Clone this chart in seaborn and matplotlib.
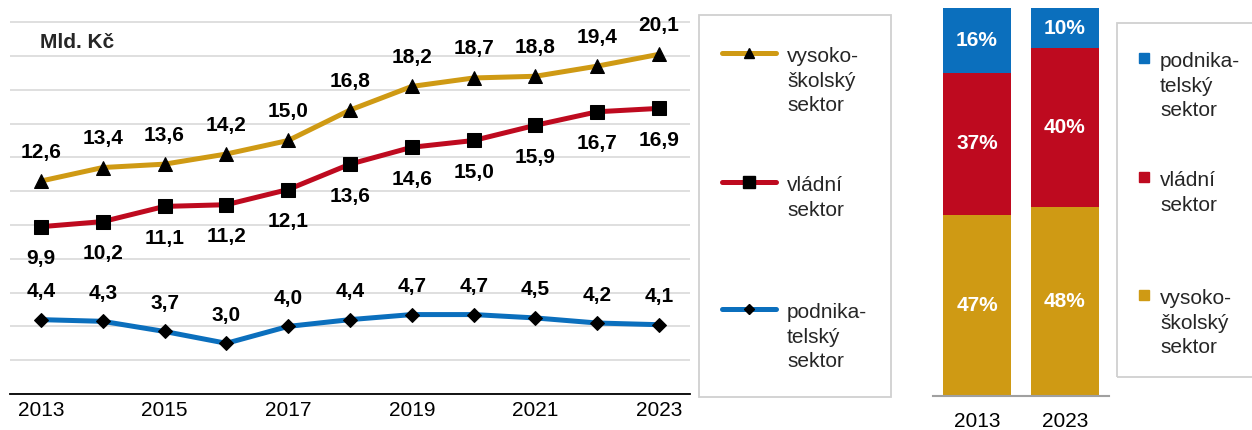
import numpy as np
import pandas as pd
import seaborn as sns
import matplotlib.pyplot as plt
from matplotlib.lines import Line2D
from matplotlib.patches import Rectangle

# data - vydaje na VaV podle sektoru (mld. Kc)
years = [2013, 2014, 2015, 2016, 2017, 2018, 2019, 2020, 2021, 2022, 2023]
vs = [12.6, 13.4, 13.6, 14.2, 15.0, 16.8, 18.2, 18.7, 18.8, 19.4, 20.1]
vlad = [9.9, 10.2, 11.1, 11.2, 12.1, 13.6, 14.6, 15.0, 15.9, 16.7, 16.9]
podn = [4.4, 4.3, 3.7, 3.0, 4.0, 4.4, 4.7, 4.7, 4.5, 4.2, 4.1]

# struktura v %
share_years = ['2013', '2023']
share_vs = [46.7, 48.8]
share_vlad = [36.7, 41.0]
share_podn = [16.6, 10.2]
lab_vs = ['47%', '48%']
lab_vlad = ['37%', '40%']
lab_podn = ['16%', '10%']

YELLOW = '#CF9A14'
RED = '#BE0A1F'
BLUE = '#0B6FBD'

sns.set_theme(style='white')
plt.rcParams['font.family'] = ['Liberation Sans', 'DejaVu Sans']

W, H = 1252, 430
fig = plt.figure(figsize=(W / 100, H / 100), dpi=100)

def fx(px):
    return px / W

def fy(py):
    return 1 - py / H

# ---- line chart
ax = fig.add_axes([fx(10), fy(394), 680 / W, 373.5 / H])
series = [(vs, YELLOW, '^', 10, 29), (vlad, RED, 's', 10.5, -32), (podn, BLUE, 'D', 7, 28)]
for vals, col, mk, ms, off in series:
    sns.lineplot(x=years, y=vals, color=col, lw=3.6, marker=mk, markersize=ms,
                 markerfacecolor='black', markeredgecolor='black', ax=ax)
    for x, v in zip(years, vals):
        ax.annotate(f'{v:.1f}'.replace('.', ','), (x, v), xytext=(0, off),
                    textcoords='offset pixels', ha='center', va='center',
                    fontsize=15, fontweight='bold', color='black')

ax.set_xlim(2012.5, 2023.5)
ax.set_ylim(0, 22.1)
ax.set_yticks(np.arange(0, 23, 2))
ax.set_yticklabels([])
ax.yaxis.grid(True, color='#D9D9D9', lw=1.2)
ax.set_axisbelow(True)
ax.set_xticks(np.arange(2012.5, 2024, 1))
ax.set_xticklabels([])
ax.set_xticks(years[::2], minor=True)
ax.set_xticklabels([str(y) for y in years[::2]], minor=True)
ax.tick_params(axis='x', which='major', length=6, width=1.3, color='black', direction='out')
ax.tick_params(axis='x', which='minor', length=0, labelsize=15, pad=5, labelcolor='black')
ax.tick_params(axis='y', length=0)
for s in ['left', 'right', 'top']:
    ax.spines[s].set_visible(False)
ax.spines['bottom'].set_color('black')
ax.spines['bottom'].set_linewidth(1.3)
ax.set_xlabel('')
ax.set_ylabel('')
fig.text(fx(40), fy(43), 'Mld. Kč', fontsize=15, fontweight='bold', va='center', ha='left')

# legend of the line chart
fig.add_artist(Rectangle((fx(699), fy(397)), 192 / W, 382 / H, transform=fig.transFigure,
                         fill=False, ec='#D0D0D0', lw=1.3))
leg1 = [('vysoko-\nškolský\nsektor', YELLOW, '^', 7, 53),
        ('vládní\nsektor', RED, 's', 9, 182),
        ('podnika-\ntelský\nsektor', BLUE, 'D', 5.5, 309)]
for txt, col, mk, ms, yy in leg1:
    fig.add_artist(Line2D([fx(722), fx(776)], [fy(yy), fy(yy)], color=col, lw=3.6,
                          solid_capstyle='round', transform=fig.transFigure))
    fig.add_artist(Line2D([fx(749)], [fy(yy)], marker=mk, markersize=ms, color='black',
                          transform=fig.transFigure))
    fig.text(fx(787), fy(yy - 6), txt, fontsize=15, va='top', ha='left', linespacing=1.38)

# ---- stacked bars
bax = fig.add_axes([fx(933), fy(396), 176 / W, 387.7 / H])
df = pd.DataFrame({'rok': share_years, 'vs': share_vs, 'vlad': share_vlad, 'podn': share_podn})
df['c_vs'] = df['vs']
df['c_vlad'] = df['vs'] + df['vlad']
df['c_podn'] = df['c_vlad'] + df['podn']
for col, c in [('c_podn', BLUE), ('c_vlad', RED), ('c_vs', YELLOW)]:
    sns.barplot(data=df, x='rok', y=col, color=c, saturation=1, width=0.77, linewidth=0, ax=bax)

for i in range(len(df)):
    for base, val, lab in [(0, df['vs'][i], lab_vs[i]),
                           (df['c_vs'][i], df['vlad'][i], lab_vlad[i]),
                           (df['c_vlad'][i], df['podn'][i], lab_podn[i])]:
        bax.text(i, base + val / 2, lab, ha='center', va='center', color='white',
                 fontsize=15, fontweight='bold')

bax.set_xlim(-0.5, 1.5)
bax.set_ylim(0, 100)
bax.set_yticks([])
bax.set_xticks([-0.5, 0.5, 1.5])
bax.set_xticklabels([])
bax.set_xticks([0, 1], minor=True)
bax.set_xticklabels(share_years, minor=True)
bax.tick_params(axis='x', which='major', length=6, width=1.5, color='#A0A0A0', direction='out')
bax.tick_params(axis='x', which='minor', length=0, labelsize=15, pad=11.5, labelcolor='black')
for s in ['left', 'right', 'top']:
    bax.spines[s].set_visible(False)
bax.spines['bottom'].set_color('#A0A0A0')
bax.spines['bottom'].set_linewidth(1.5)
bax.set_xlabel('')
bax.set_ylabel('')

# legend of the bar chart
fig.add_artist(Rectangle((fx(1117), fy(377)), 200 / W, 354 / H, transform=fig.transFigure,
                         fill=False, ec='#D0D0D0', lw=1.3))
leg2 = [('podnika-\ntelský\nsektor', BLUE, 58), ('vládní\nsektor', RED, 177),
        ('vysoko-\nškolský\nsektor', YELLOW, 295)]
for txt, col, yy in leg2:
    fig.add_artist(Line2D([fx(1144)], [fy(yy)], marker='s', markersize=7.5, color=col, lw=0,
                          transform=fig.transFigure))
    fig.text(fx(1160), fy(yy - 6), txt, fontsize=15, va='top', ha='left', linespacing=1.38)

fig.savefig('out.png', dpi=100)
